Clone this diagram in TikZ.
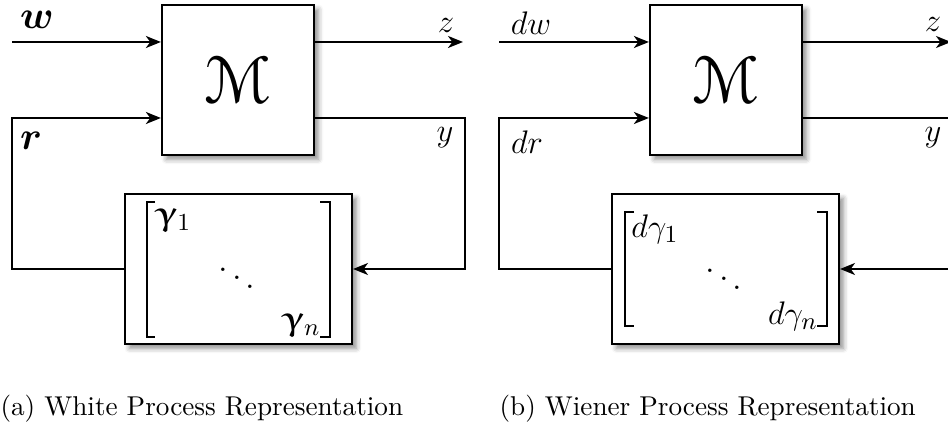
\documentclass[tikz,border=0pt]{standalone}
\usepackage{amsmath,amssymb}
\usepackage{eucal}
\usetikzlibrary{arrows.meta,calc,shadows.blur}
% bold upright Euler gamma for the white process uncertainty
\DeclareSymbolFont{eulerbold}{U}{eur}{b}{n}
\DeclareMathSymbol{\wgamma}{\mathord}{eulerbold}{"0D}

\begin{document}
\begin{tikzpicture}[x=0.3676pt, y=-0.3676pt,
  blk/.style={draw, line width=0.8pt, fill=white, inner sep=0pt,
    blur shadow={shadow xshift=1.6pt, shadow yshift=-1.6pt, shadow blur radius=1.8pt, shadow opacity=45}},
  sys/.style={blk, minimum width=55.9pt, minimum height=55.1pt, font=\Huge},
  unc/.style={blk, minimum width=83.4pt, minimum height=55.1pt},
  sig/.style={line width=0.8pt, -{Stealth[length=5.5pt, width=4.4pt, inset=1.6pt]}},
  brk/.style={line width=0.55pt},
  lbl/.style={font=\fontsize{13}{15}\selectfont, inner sep=0pt},
  blbl/.style={font=\fontsize{14}{16}\selectfont, inner sep=0pt}]
  \useasboundingbox (0,0) rectangle (948,431);
  \clip (0,0) rectangle (948,431);

  % (a) white process representation
  \node[sys] (M1) at (238,80) {$\mathcal{M}$};
  \node[unc] (G1) at (238.5,269) {};
  \draw[brk] (155,202) -- (147,202) -- (147,337) -- (155,337);
  \draw[brk] (320,202) -- (330,202) -- (330,337) -- (320,337);
  \node[lbl] (g11) at (173,220) {$\wgamma_1$};
  \node[lbl] (dd1) at (237,270) {$\ddots$};
  \node[lbl] (gn1) at (301,325) {$\wgamma_n$};
  \coordinate (w1) at (12,42);
  \coordinate (z1) at (463,42);
  \coordinate (r1) at (12,118);
  \coordinate (y1) at (465,118);
  \draw[sig] (w1) -- (w1 -| M1.west);
  \draw[sig] (z1 -| M1.east) -- (z1);
  \draw[sig] (G1.west) -| (r1) -- (r1 -| M1.west);
  \draw[sig] (y1 -| M1.east) -- (y1) |- (G1.east);
  \node[blbl] (lw1) at (37,20) {$\boldsymbol{w}$};
  \node[lbl] (lz1) at (446,25) {$z$};
  \node[blbl] (lr1) at (31,141) {$\boldsymbol{r}$};
  \node[lbl] (ly1) at (445,138) {$y$};
  \node[anchor=base west, inner sep=0pt] (cap1) at (0,415) {(a) White Process Representation};

  % (b) Wiener process representation
  \node[sys] (M2) at (726,80) {$\mathcal{M}$};
  \node[unc] (G2) at (725.5,269) {};
  \draw[brk] (634,212) -- (625,212) -- (625,326) -- (634,326);
  \draw[brk] (817,212) -- (827,212) -- (827,326) -- (817,326);
  \node[lbl] (g12) at (655,229) {$d\gamma_1$};
  \node[lbl] (dd2) at (724,271) {$\ddots$};
  \node[lbl] (gn2) at (793,316) {$d\gamma_n$};
  \coordinate (w2) at (499,42);
  \coordinate (z2) at (951,42);
  \coordinate (r2) at (499,118);
  \coordinate (y2) at (953,118);
  \draw[sig] (w2) -- (w2 -| M2.west);
  \draw[sig] (z2 -| M2.east) -- (z2);
  \draw[sig] (G2.west) -| (r2) -- (r2 -| M2.west);
  \draw[sig] (y2 -| M2.east) -- (y2) |- (G2.east);
  \node[lbl] (lw2) at (531,23) {$dw$};
  \node[lbl] (lz2) at (933,24) {$z$};
  \node[lbl] (lr2) at (527,142) {$dr$};
  \node[lbl] (ly2) at (933,138) {$y$};
  \node[anchor=base west, inner sep=0pt] (cap2) at (499,415) {(b) Wiener Process Representation};
\end{tikzpicture}
\end{document}
